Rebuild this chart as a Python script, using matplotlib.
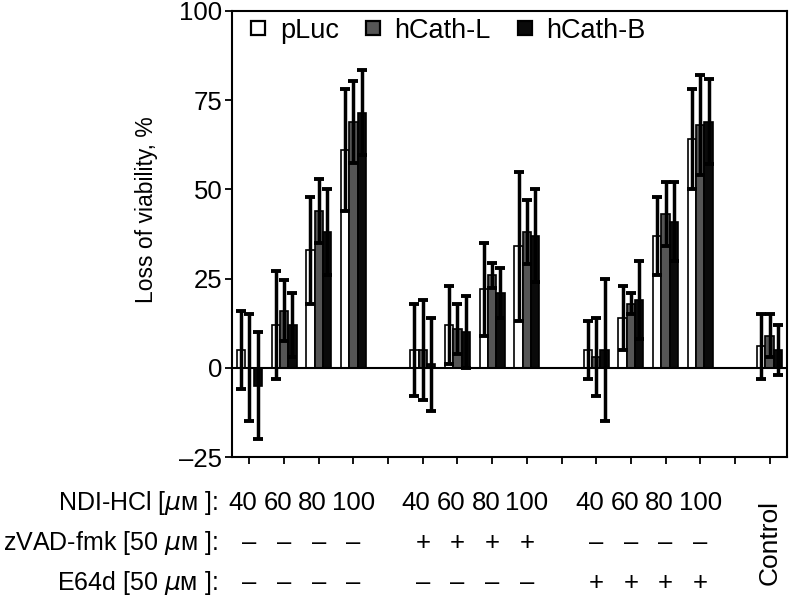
import matplotlib
matplotlib.use("Agg")
import matplotlib.pyplot as plt
import matplotlib.transforms as mtransforms
from matplotlib.lines import Line2D

plt.rcParams['font.family'] = ['Liberation Sans', 'DejaVu Sans']
plt.rcParams['mathtext.fontset'] = 'dejavusans'

# ---- data ----
series = ['pLuc', 'hCath-L', 'hCath-B']
positions = [0, 1, 2, 3, 5, 6, 7, 8, 10, 11, 12, 13, 15]
pluc_mean = [5, 12, 33, 61, 5, 12, 22, 34, 5, 14, 37, 64, 6]
pluc_err = [11, 15, 15, 17, 13, 11, 13, 21, 8, 9, 11, 14, 9]
hcathl_mean = [0, 16, 44, 69, 5, 11, 26, 38, 3, 18, 43, 68, 9]
hcathl_err = [15, 8.5, 9, 11.5, 14, 7, 3.5, 9, 11, 3, 9, 14, 6]
hcathb_mean = [-5, 12, 38, 71.5, 1, 10, 21, 37, 5, 19, 41, 69, 5]
hcathb_err = [15, 9, 12, 12, 13, 10, 7, 13, 20, 11, 11, 12, 7]

dose_labels = ['40', '60', '80', '100'] * 3
zvad_labels = ['–', '–', '–', '–', '+', '+', '+', '+', '–', '–', '–', '–']
e64_labels = ['–', '–', '–', '–', '–', '–', '–', '–', '+', '+', '+', '+']
yticks = [-25, 0, 25, 50, 75, 100]
ytick_labels = ['–25', '0', '25', '50', '75', '100']

# ---- style ----
colors = ['white', '#555555', '#0a0a0a']
offsets = [-0.24, 0.0, 0.24]
width = 0.24
means = [pluc_mean, hcathl_mean, hcathb_mean]
errs = [pluc_err, hcathl_err, hcathb_err]

fig = plt.figure(figsize=(7.9, 5.97), dpi=100)
ax = fig.add_axes([0.2937, 0.2345, 0.7025, 0.7471])

for k in range(3):
    xs = [p + offsets[k] for p in positions]
    ax.bar(xs, means[k], width=width, color=colors[k], edgecolor='black',
           linewidth=1.2, zorder=2)
    ax.errorbar(xs, means[k], yerr=errs[k], fmt='none', ecolor='black',
                elinewidth=2.5, capsize=3.8, capthick=2.8, zorder=3)

ax.axhline(0, color='black', linewidth=1.5, zorder=4)

ax.set_xlim(-0.5, 15.5)
ax.set_ylim(-25, 100)
ax.set_yticks(yticks)
ax.set_yticklabels(ytick_labels, fontsize=18.5)
ax.set_xticks(list(range(16)))
ax.set_xticklabels([])
ax.tick_params(axis='both', direction='out', length=5, width=1.3, pad=2)
for s in ax.spines.values():
    s.set_linewidth(1.5)
ax.set_ylabel('Loss of viability, %', fontsize=16.5)
ax.yaxis.set_label_coords(-0.133, 0.554)

# legend
handles = [Line2D([], [], linestyle='none', marker='s', markersize=9.5,
                  markerfacecolor=c, markeredgecolor='black', markeredgewidth=1.6)
           for c in colors]
ax.legend(handles, series, loc='upper left', ncol=3, frameon=False,
          fontsize=19.5, handletextpad=0.3, columnspacing=0.75,
          handlelength=1.0, borderpad=0.0, borderaxespad=0.0,
          bbox_to_anchor=(0.023, 0.985))

# bottom annotation rows
trans = mtransforms.blended_transform_factory(ax.transData, fig.transFigure)
row_y = [0.146, 0.079, 0.012]
row_names = ['NDI-HCl [$\\mu$ᴍ ]:', 'zVAD-fmk [50 $\\mu$ᴍ ]:', 'E64d [50 $\\mu$ᴍ ]:']
for y, name in zip(row_y, row_names):
    fig.text(0.2760, y, name, ha='right', va='baseline', fontsize=18)

num_off = [-0.2, -0.18, -0.18, 0.0]
for i, (p, lab) in enumerate(zip(positions[:12], dose_labels)):
    ax.text(p + num_off[i % 4], row_y[0], lab, transform=trans, ha='center',
            va='baseline', fontsize=18.5)
    ax.text(p, row_y[1], zvad_labels[i], transform=trans, ha='center',
            va='baseline', fontsize=18.5)
    ax.text(p, row_y[2], e64_labels[i], transform=trans, ha='center',
            va='baseline', fontsize=18.5)
ax.text(positions[12], 0.0905, 'Control', transform=trans, rotation=90,
        ha='center', va='center', fontsize=19)

fig.savefig('out.png', dpi=100)
